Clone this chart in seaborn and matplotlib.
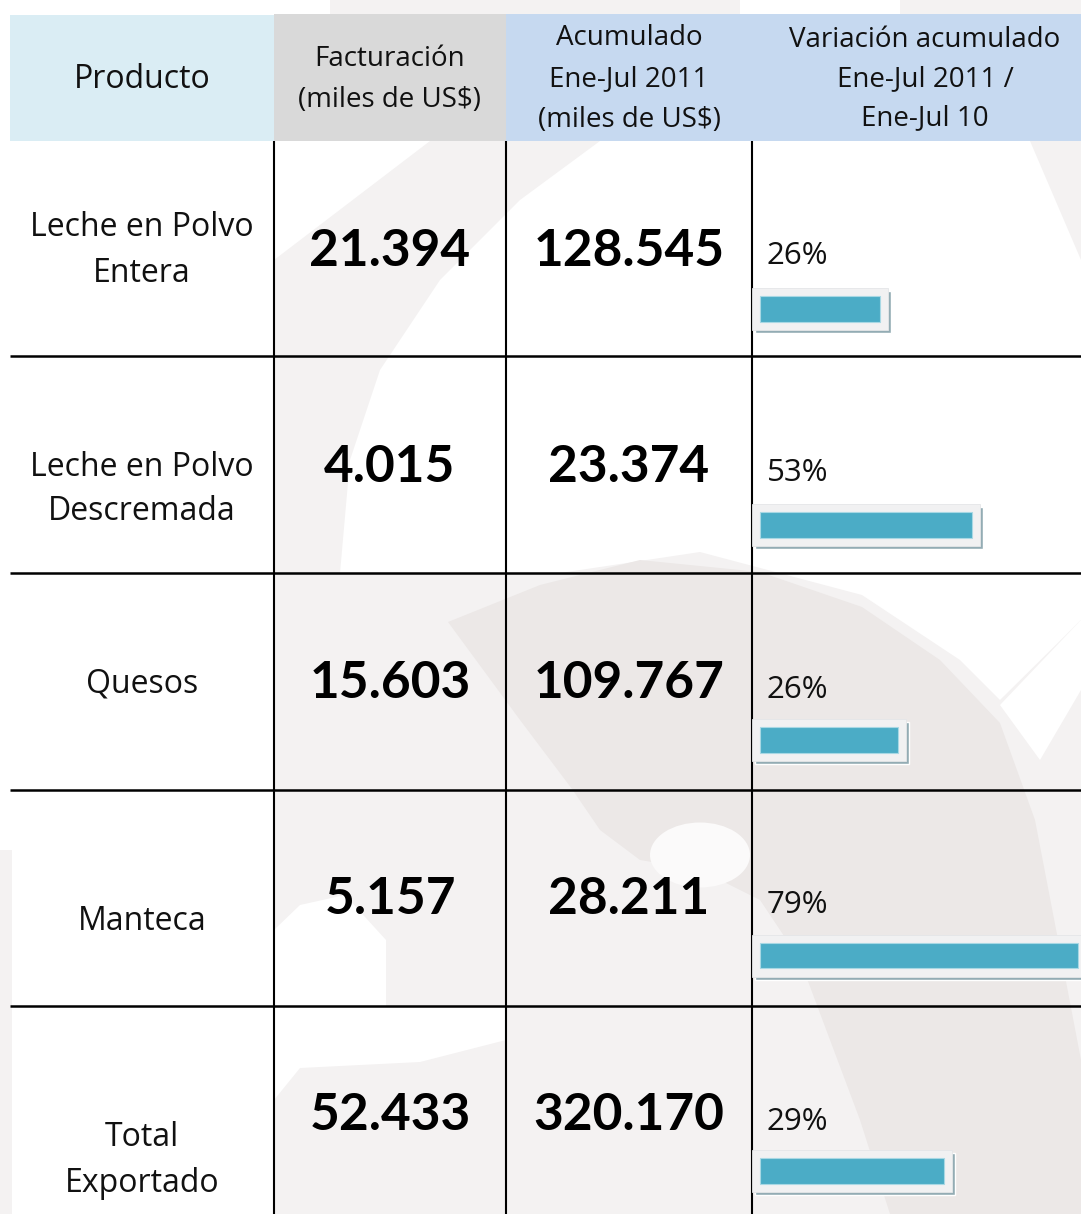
import matplotlib
matplotlib.use("Agg")
import matplotlib.pyplot as plt
from matplotlib.patches import Polygon, Rectangle, Ellipse
import seaborn as sns
import pandas as pd

# ---------------- data ----------------
productos = ["Leche en Polvo\nEntera", "Leche en Polvo\nDescremada", "Quesos", "Manteca", "Total\nExportado"]
facturacion = [21394, 4015, 15603, 5157, 52433]
acumulado = [128545, 23374, 109767, 28211, 320170]
variacion = [26, 53, 26, 79, 29]
barra = [29.8, 52.6, 34.2, 78.9, 45.7]   # data-bar lengths as drawn
headers = ["Producto", "Facturación\n(miles de US$)",
           "Acumulado\nEne-Jul 2011\n(miles de US$)",
           "Variación acumulado\nEne-Jul 2011 /\nEne-Jul 10"]

def fmt(v):
    return f"{v:,}".replace(",", ".")

sns.set_theme(style="white")
REG = ["Open Sans", "DejaVu Sans"]
BOLD = ["Lato", "DejaVu Sans"]
plt.rcParams["font.family"] = REG

W, H = 1081, 1214
fig = plt.figure(figsize=(W / 100, H / 100), dpi=100)
fig.patch.set_facecolor("white")

ax = fig.add_axes([0, 0, 1, 1])
ax.set_xlim(0, W)
ax.set_ylim(H, 0)
ax.axis("off")

# ---------------- faint watermark ----------------
light = "#F4F2F2"
dark = "#ECE8E7"
wm = [
    (light, [(330, 0), (740, 0), (740, 14), (330, 14)]),
    (light, [(900, 0), (1081, 0), (1081, 14), (900, 14)]),
    (light, [(1030, 141), (1081, 141), (1081, 260)]),
    (light, [(430, 141), (600, 141), (520, 200), (440, 280), (380, 370),
             (350, 460), (340, 573), (274, 573), (274, 260)]),
    (light, [(274, 573), (560, 573), (700, 552), (862, 595), (960, 660),
             (1000, 700), (1081, 620), (1081, 1214), (274, 1214)]),
    (dark, [(448, 622), (540, 585), (640, 560), (760, 572), (862, 607),
            (940, 660), (1000, 723), (1035, 820), (1060, 950), (1081, 1060),
            (1081, 1214), (890, 1214), (860, 1120), (830, 1040), (800, 960),
            (760, 900), (700, 870), (640, 860), (600, 830), (572, 789), (520, 720)]),
    ("white", [(1000, 705), (1081, 620), (1081, 690), (1040, 760)]),
    ("white", [(274, 930), (300, 905), (345, 895), (386, 940), (386, 1006), (274, 1006)]),
    ("white", [(274, 1006), (506, 1006), (506, 1040), (420, 1062), (300, 1068), (274, 1100)]),
    (light, [(0, 850), (12, 850), (12, 1214), (0, 1214)]),
]
for col, pts in wm:
    ax.add_patch(Polygon(pts, closed=True, facecolor=col, edgecolor="none", zorder=0))
ax.add_patch(Ellipse((700, 855), 100, 65, facecolor="#FBFAFA", edgecolor="none", zorder=0))

# ---------------- header ----------------
ax.add_patch(Rectangle((10, 15), 264, 126, facecolor="#DAEDF4", edgecolor="none", zorder=1))
ax.add_patch(Rectangle((274, 14), 232, 127, facecolor="#D9D9D9", edgecolor="none", zorder=1))
ax.add_patch(Rectangle((506, 14), 575, 127, facecolor="#C6D9F0", edgecolor="none", zorder=1))

hx = [142, 390, 629, 925]
hlines_y = [[80], [59, 100], [38, 79, 120], [40, 79, 118]]
hsize = [23, 20, 20, 20]
for t, x, ys, s in zip(headers, hx, hlines_y, hsize):
    for line, y in zip(t.split("\n"), ys):
        ax.text(x, y, line, ha="center", va="center", fontsize=s,
                color="#111111", zorder=3)

# ---------------- grid lines ----------------
row_tops = [141, 356, 573, 790, 1006]
for y in row_tops[1:]:
    ax.plot([10, W], [y, y], color="black", lw=1.8, zorder=2, solid_capstyle="butt")
for x in [274, 506, 752]:
    ax.plot([x, x], [141, H], color="black", lw=1.5, zorder=2, solid_capstyle="butt")

# ---------------- cell texts ----------------
label_lines_y = [[228, 273], [467, 512], [684], [921], [1138, 1183]]
num_y = [251, 467, 684, 899, 1116]
pct_y = [256, 473, 690, 905, 1122]
for i in range(len(productos)):
    for line, y in zip(productos[i].split("\n"), label_lines_y[i]):
        ax.text(142, y, line, ha="center", va="center", fontsize=23,
                color="#111111", zorder=3)
    ax.text(390, num_y[i], fmt(facturacion[i]), ha="center", va="center",
            fontsize=37, fontweight="bold", family=BOLD, color="black", zorder=3)
    ax.text(629, num_y[i], fmt(acumulado[i]), ha="center", va="center",
            fontsize=37, fontweight="bold", family=BOLD, color="black", zorder=3)
    ax.text(767, pct_y[i], f"{variacion[i]}%", ha="left", va="center",
            fontsize=22.5, color="#111111", zorder=3)

# ---------------- data bars ----------------
PX = 4.03                      # pixels per bar unit
x0 = 752
axb = fig.add_axes([x0 / W, 0, (W - x0) / W, 1])
axb.patch.set_alpha(0)
rows = list(range(len(barra)))
df = pd.DataFrame({"row": rows, "barra": barra})

pad = 8 / PX
for r, v in zip(rows, barra):
    axb.barh(r + 3 / 215.5, v + 2 * pad, left=-pad + 3 / PX, height=42 / 215.5,
             color="#93ACB4", zorder=1)
    axb.barh(r, v + 2 * pad, left=-pad, height=42 / 215.5,
             color="#F1F1F2", edgecolor="#E4E6E8", linewidth=0.6, zorder=2)

sns.barplot(data=df, x="barra", y="row", orient="h", native_scale=True,
            color="#4BACC6", saturation=1, width=26 / 215.5,
            edgecolor="#A8D8E4", linewidth=0.8, ax=axb, zorder=3)

axb.set_xlim(-pad, (W - 760) / PX)
axb.set_ylim((H - 309) / 215.5, -309 / 215.5)
axb.axis("off")

fig.savefig("out.png", dpi=100, facecolor="white")
